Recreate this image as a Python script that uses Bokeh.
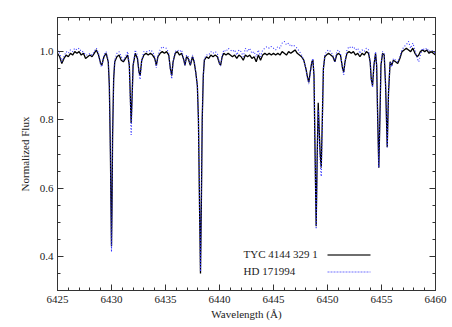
from bokeh.plotting import figure
from bokeh.models import (LinearAxis, Label, Range1d, FixedTicker, ColumnDataSource,
                          PrintfTickFormatter, CustomJSTickFormatter, BoxAnnotation)
from bokeh.embed import file_html
from bokeh.resources import INLINE

# ---- data ----
wavelength = [
    6425.0, 6425.2, 6425.4, 6425.6, 6425.8, 6426.0, 6426.2, 6426.4, 6426.6, 6426.8,
    6427.0, 6427.2, 6427.4, 6427.6, 6427.8, 6428.0, 6428.2, 6428.4, 6428.6, 6428.8,
    6429.0, 6429.1, 6429.3, 6429.5, 6429.7, 6429.8, 6429.9, 6429.95, 6430.0, 6430.05,
    6430.1, 6430.2, 6430.3, 6430.5, 6430.7, 6430.9, 6431.1, 6431.3, 6431.5, 6431.65,
    6431.75, 6431.82, 6431.9, 6432.0, 6432.2, 6432.4, 6432.55, 6432.65, 6432.8, 6433.0,
    6433.2, 6433.4, 6433.6, 6433.8, 6434.0, 6434.15, 6434.3, 6434.5, 6434.7, 6434.9,
    6435.1, 6435.3, 6435.45, 6435.58, 6435.7, 6435.9, 6436.1, 6436.3, 6436.5, 6436.7,
    6436.8, 6436.95, 6437.1, 6437.3, 6437.5, 6437.65, 6437.8, 6437.95, 6438.05, 6438.15,
    6438.24, 6438.32, 6438.4, 6438.5, 6438.6, 6438.8, 6439.0, 6439.2, 6439.4, 6439.6,
    6439.8, 6440.0, 6440.1, 6440.25, 6440.4, 6440.6, 6440.8, 6441.0, 6441.2, 6441.4,
    6441.6, 6441.8, 6442.0, 6442.2, 6442.4, 6442.6, 6442.8, 6443.0, 6443.2, 6443.4,
    6443.6, 6443.8, 6444.0, 6444.2, 6444.4, 6444.6, 6444.8, 6445.0, 6445.2, 6445.4,
    6445.6, 6445.8, 6446.0, 6446.2, 6446.4, 6446.6, 6446.8, 6447.0, 6447.2, 6447.4,
    6447.6, 6447.8, 6448.0, 6448.15, 6448.27, 6448.4, 6448.55, 6448.65, 6448.75, 6448.85,
    6448.95, 6449.05, 6449.14, 6449.22, 6449.32, 6449.42, 6449.52, 6449.62, 6449.75, 6449.9,
    6450.1, 6450.3, 6450.5, 6450.68, 6450.85, 6451.0, 6451.2, 6451.4, 6451.5, 6451.62,
    6451.8, 6452.0, 6452.2, 6452.4, 6452.6, 6452.8, 6453.0, 6453.2, 6453.4, 6453.6,
    6453.8, 6453.95, 6454.05, 6454.17, 6454.3, 6454.45, 6454.55, 6454.65, 6454.75, 6454.85,
    6454.95, 6455.1, 6455.25, 6455.38, 6455.53, 6455.65, 6455.8, 6455.95, 6456.1, 6456.3,
    6456.5, 6456.7, 6456.9, 6457.1, 6457.3, 6457.5, 6457.7, 6457.9, 6458.1, 6458.3,
    6458.45, 6458.6, 6458.8, 6459.0, 6459.2, 6459.4, 6459.6, 6459.8, 6460.0,
]

flux_tyc = [
    0.995, 0.985, 0.965, 0.980, 0.990, 0.985, 0.995, 0.990, 1.000, 0.995,
    1.000, 0.990, 0.995, 0.980, 0.985, 0.990, 0.985, 0.995, 1.005, 0.990,
    0.965, 0.960, 0.985, 0.995, 0.970, 0.900, 0.700, 0.550, 0.430, 0.550,
    0.750, 0.920, 0.970, 0.985, 0.990, 0.975, 0.970, 0.980, 0.990, 0.960,
    0.860, 0.790, 0.860, 0.960, 0.995, 0.980, 0.940, 0.930, 0.975, 0.990,
    0.995, 0.990, 0.995, 0.990, 0.980, 0.960, 0.985, 0.995, 1.000, 0.995,
    1.000, 0.990, 0.950, 0.930, 0.970, 0.995, 1.000, 0.990, 0.995, 0.975,
    0.960, 0.985, 0.980, 0.960, 0.985, 0.970, 0.940, 0.900, 0.800, 0.550,
    0.350, 0.550, 0.800, 0.930, 0.975, 0.985, 0.980, 0.990, 0.985, 0.990,
    0.985, 0.965, 0.960, 0.985, 0.995, 0.990, 0.995, 0.990, 0.985, 0.990,
    0.980, 0.990, 0.985, 0.975, 0.990, 0.985, 0.990, 0.980, 0.985, 0.970,
    0.990, 0.975, 0.990, 0.995, 0.990, 0.995, 0.990, 0.995, 0.990, 0.995,
    0.990, 1.000, 0.995, 0.990, 1.000, 0.995, 1.000, 1.005, 0.995, 0.990,
    0.985, 0.975, 0.950, 0.925, 0.910, 0.940, 0.970, 0.975, 0.930, 0.700,
    0.488, 0.700, 0.850, 0.780, 0.700, 0.660, 0.800, 0.950, 0.985, 0.990,
    0.995, 0.990, 0.985, 0.970, 0.990, 0.995, 0.990, 0.950, 0.940, 0.970,
    0.995, 1.000, 0.995, 1.000, 0.990, 0.995, 0.985, 0.995, 0.990, 1.000,
    0.995, 0.970, 0.920, 0.900, 0.960, 0.995, 0.960, 0.800, 0.660, 0.800,
    0.960, 0.995, 0.990, 0.900, 0.720, 0.880, 0.970, 0.960, 0.975, 0.970,
    0.965, 0.980, 1.000, 1.005, 1.010, 1.005, 1.000, 1.010, 0.995, 0.985,
    0.990, 1.000, 1.005, 1.000, 1.005, 0.995, 1.000, 0.995, 0.990,
]

flux_hd = [
    1.005, 0.995, 0.970, 0.985, 1.000, 0.995, 1.005, 1.000, 1.010, 1.005,
    1.010, 1.000, 1.000, 0.990, 0.990, 0.995, 0.990, 1.000, 1.010, 0.995,
    0.960, 0.955, 0.990, 1.000, 0.975, 0.900, 0.700, 0.530, 0.413, 0.530,
    0.740, 0.920, 0.975, 0.995, 1.000, 0.985, 0.975, 0.985, 1.000, 0.960,
    0.850, 0.756, 0.840, 0.960, 1.005, 0.990, 0.935, 0.918, 0.975, 1.000,
    1.000, 1.000, 1.005, 1.000, 0.985, 0.952, 0.990, 1.005, 1.015, 1.010,
    1.010, 0.995, 0.945, 0.920, 0.970, 1.000, 1.005, 1.000, 1.005, 0.975,
    0.960, 0.990, 0.985, 0.962, 0.990, 0.975, 0.940, 0.900, 0.800, 0.560,
    0.355, 0.560, 0.800, 0.930, 0.980, 0.990, 0.990, 1.000, 0.995, 1.000,
    0.995, 0.965, 0.958, 0.990, 1.005, 1.000, 1.010, 1.005, 1.000, 1.005,
    0.990, 1.005, 1.000, 0.985, 1.010, 1.000, 1.010, 0.995, 1.000, 0.985,
    1.005, 0.985, 1.005, 1.010, 1.015, 1.010, 1.015, 1.010, 1.005, 1.015,
    1.010, 1.025, 1.030, 1.020, 1.025, 1.015, 1.020, 1.015, 1.010, 1.000,
    0.990, 0.975, 0.950, 0.920, 0.905, 0.935, 0.970, 0.980, 0.930, 0.700,
    0.480, 0.680, 0.830, 0.770, 0.680, 0.634, 0.780, 0.950, 0.990, 1.000,
    1.005, 1.000, 0.990, 0.970, 1.000, 1.005, 0.995, 0.950, 0.932, 0.970,
    1.005, 1.015, 1.010, 1.015, 1.005, 1.010, 0.995, 1.005, 1.000, 1.010,
    1.005, 0.970, 0.920, 0.895, 0.960, 1.000, 0.960, 0.800, 0.660, 0.800,
    0.960, 1.000, 0.995, 0.900, 0.720, 0.880, 0.970, 0.955, 0.980, 0.975,
    0.970, 0.985, 1.005, 1.015, 1.020, 1.030, 1.010, 1.025, 1.005, 0.980,
    0.970, 0.990, 1.010, 1.005, 1.010, 1.000, 1.005, 1.000, 0.995,
]

x_ticks = [6425, 6430, 6435, 6440, 6445, 6450, 6455, 6460]
x_minor = [6425 + i for i in range(36)]
y_ticks = [0.4, 0.6, 0.8, 1.0]
y_minor = [0.30, 0.35, 0.40, 0.45, 0.50, 0.55, 0.60, 0.65, 0.70, 0.75,
           0.80, 0.85, 0.90, 0.95, 1.00, 1.05, 1.10]
series_names = ["TYC 4144 329 1", "HD 171994"]
series_colors = ["black", "#3535ff"]
series_dash = ["solid", "1 2"]

FONT = "Liberation Serif"
AX = "#333333"

src = ColumnDataSource(dict(x=wavelength, tyc=flux_tyc, hd=flux_hd))

p = figure(width=452, height=327,
           x_range=Range1d(6425, 6460), y_range=Range1d(0.3, 1.1),
           output_backend="svg", toolbar_location=None,
           min_border_left=57, min_border_right=17,
           min_border_top=17, min_border_bottom=37,
           x_axis_label="Wavelength (Å)", y_axis_label="Normalized Flux")
p.grid.visible = False
p.outline_line_color = AX
p.background_fill_color = "white"
p.border_fill_color = "white"

p.line("x", "tyc", source=src, line_color=series_colors[0], line_width=1.3)
p.line("x", "hd", source=src, line_color=series_colors[1], line_width=1.1,
       line_dash=series_dash[1])

xt = FixedTicker(ticks=x_ticks, minor_ticks=x_minor)
yt = FixedTicker(ticks=y_ticks, minor_ticks=y_minor)


def style(ax, labels=True):
    ax.axis_line_color = AX
    ax.major_tick_line_color = AX
    ax.minor_tick_line_color = AX
    ax.major_tick_in = 6
    ax.major_tick_out = 0
    ax.minor_tick_in = 3
    ax.minor_tick_out = 0
    if labels:
        ax.major_label_text_font = FONT
        ax.major_label_text_font_size = "11px"
        ax.major_label_text_color = "#222222"
        ax.axis_label_text_font = FONT
        ax.axis_label_text_font_size = "11px"
        ax.axis_label_text_font_style = "normal"
        ax.axis_label_text_color = "#222222"
    else:
        ax.formatter = CustomJSTickFormatter(code="return ''")
        ax.major_label_standoff = 0


p.xaxis.ticker = xt
p.yaxis.ticker = yt
style(p.xaxis[0])
style(p.yaxis[0])
p.yaxis.formatter = PrintfTickFormatter(format="%.1f")
p.xaxis.major_label_standoff = 5
p.xaxis.axis_label_standoff = 2
p.yaxis.major_label_standoff = 4
p.yaxis.axis_label_standoff = 6

top = LinearAxis(ticker=xt)
right = LinearAxis(ticker=yt)
style(top, labels=False)
style(right, labels=False)
p.add_layout(top, "above")
p.add_layout(right, "right")

# legend: text on the left, line sample on the right (screen units, frame-relative)
legend_line_colors = ["#6e6e6e", "#7070ff"]
for name, yy, col, dash, lw in zip(series_names, [35.5, 18.5], legend_line_colors,
                                   series_dash, [2.0, 1.2]):
    p.add_layout(Label(x=186, y=yy + 1.5, x_units="screen", y_units="screen",
                       text=name, text_baseline="middle",
                       text_font=FONT, text_font_size="11px",
                       text_color="#222222"))
    p.add_layout(BoxAnnotation(left=270, right=313, bottom=yy, top=yy,
                               left_units="screen", right_units="screen",
                               top_units="screen", bottom_units="screen",
                               fill_alpha=0, line_color=col,
                               line_width=lw, line_dash=dash, line_alpha=1.0))

open("out.html", "w").write(file_html(p, INLINE))
